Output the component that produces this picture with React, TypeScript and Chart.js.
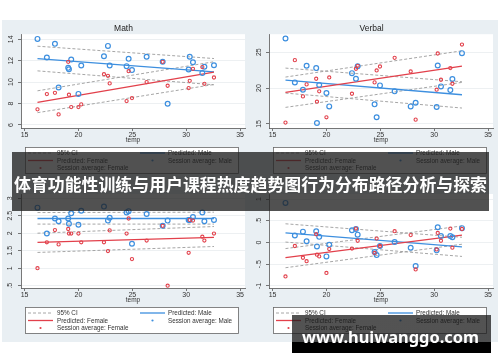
import React, { useEffect, useRef } from 'react';
import { Chart, registerables } from 'chart.js';

Chart.register(...registerables);

// ---------------- data ----------------
const sessionTemp = [16.2, 17.07, 17.82, 18.16, 19.05, 19.12, 19.33, 20.0, 20.26, 22.37, 22.74, 22.9, 24.47, 24.66, 24.97, 26.33, 27.82, 28.28, 30.23, 30.33, 30.63, 31.5, 31.69, 32.58];

const mathMale = [14.03, 12.3, 13.57, 9.5, 11.33, 11.2, 12.1, 8.9, 11.55, 12.42, 13.38, 11.55, 11.49, 12.17, 11.12, 12.36, 11.9, 7.98, 11.18, 12.36, 11.86, 10.84, 11.43, 11.58];
const mathFemale = [7.46, 8.88, 9.0, 6.99, 11.89, 8.82, 7.67, 7.67, 7.92, 10.74, 10.59, 9.88, 8.23, 11.02, 8.51, 10.0, 11.89, 9.66, 9.44, 10.12, 11.24, 11.4, 9.84, 10.43];

const verbalMale = [26.9, 20.79, 19.77, 23.1, 22.78, 15.14, 20.42, 19.31, 17.45, 22.08, 21.3, 23.05, 17.73, 15.93, 20.37, 19.54, 17.45, 17.96, 17.36, 23.15, 20.23, 19.72, 21.25, 24.86];
const verbalFemale = [15.19, 23.89, 18.84, 20.51, 21.3, 18.1, 19.54, 15.93, 21.48, 19.21, 22.69, 23.1, 20.79, 22.45, 23.0, 24.21, 22.31, 15.6, 19.77, 24.81, 21.16, 22.78, 20.6, 26.06];

const thirdMale = [2.73, 1.99, 2.42, 2.34, 2.42, 2.27, 2.57, 2.24, 2.64, 2.76, 2.36, 2.44, 2.59, 2.63, 1.7, 2.55, 2.21, 2.36, 2.38, 2.38, 2.46, 2.59, 2.34, 2.38];
const thirdFemale = [1.0, 1.74, 2.09, 1.68, 2.12, 1.99, 1.99, 1.99, 1.74, 1.74, 1.49, 2.08, 1.99, 2.42, 1.26, 1.79, 2.21, 0.5, 1.44, 2.38, 2.36, 1.9, 1.79, 1.99];

const fourthMale = [0.91, 0.16, 0.25, 0.03, 0.26, -0.09, 0.13, -0.32, -0.05, 0.28, 0.31, 0.18, -0.22, -0.29, -0.08, 0.01, -0.12, -0.54, -0.18, 0.35, 0.15, 0.15, 0.12, 0.33];
const fourthFemale = [-0.78, -0.08, -0.35, -0.43, 0.19, -0.28, -0.32, -0.7, -0.15, -0.14, 0.32, 0.04, -0.24, 0.09, -0.08, 0.26, 0.17, -0.62, -0.16, 0.22, 0.04, 0.32, -0.12, 0.31];

// fitted lines (ends at min / max temp)
const fitX = [16.2, 32.58];
const mathFitMale = [12.2, 10.96];
const mathFitFemale = [8.11, 10.93];
const mathCiMaleHi = [13.35, 12.2];
const mathCiMaleLo = [11.05, 9.75];
const mathCiFemaleHi = [9.19, 11.9];
const mathCiFemaleLo = [7.15, 9.78];

const verbalFitMale = [21.11, 19.07];
const verbalFitFemale = [19.4, 23.06];
const verbalCiMaleHi = [22.78, 20.88];
const verbalCiMaleLo = [19.3, 17.22];
const verbalCiFemaleHi = [21.53, 25.19];
const verbalCiFemaleLo = [17.31, 20.79];

const thirdFitMale = [2.42, 2.42];
const thirdFitFemale = [1.74, 1.88];
const thirdCiMaleHi = [2.59, 2.6];
const thirdCiMaleLo = [2.26, 2.26];
const thirdCiFemaleHi = [2.0, 2.19];
const thirdCiFemaleLo = [1.45, 1.62];

const fourthFitMale = [0.22, -0.1];
const fourthFitFemale = [-0.35, 0.17];
const fourthCiMaleHi = [0.43, 0.12];
const fourthCiMaleLo = [0.01, -0.32];
const fourthCiFemaleHi = [-0.14, 0.38];
const fourthCiFemaleLo = [-0.58, -0.04];

const xTicks = [15, 20, 25, 30, 35];
const mathTicks = [6, 8, 10, 12, 14];
const verbalTicks = [15, 20, 25];
const thirdTicks = [0.5, 1, 1.5, 2, 2.5, 3];
const fourthTicks = [-1, -0.5, 0, 0.5, 1];

const panelTitles = ['Math', 'Verbal', '', ''];
const xAxisTitle = 'temp';
const legendLabels = ['95% CI', 'Predicted: Male', 'Predicted: Female', 'Session average: Male', 'Session average: Female'];
const bannerText = '体育功能性训练与用户课程热度趋势图行为分布路径分析与探索';
const watermarkText = 'www.huiwanggo.com';

// ---------------- styles ----------------
const FONT = '"Liberation Sans", Arial, sans-serif';
const BG = '#e9eff3';
const BLUE = '#3d8fdf';
const RED = '#e2404b';
const CI = '#9c9c9c';
const AXIS = '#555';
const GRID = '#e8ecef';
const TXT = '#333';

const fmtTick = (v: number) => {
  const s = String(Math.round(v * 100) / 100);
  return s.replace(/^(-?)0\./, '$1.');
};

type PanelCfg = {
  title: string;
  male: number[];
  female: number[];
  fitMale: number[];
  fitFemale: number[];
  ciMaleHi: number[];
  ciMaleLo: number[];
  ciFemaleHi: number[];
  ciFemaleLo: number[];
  yTicks: number[];
  yMin: number;
  yMax: number;
};

const panels: PanelCfg[] = [
  { title: panelTitles[0], male: mathMale, female: mathFemale, fitMale: mathFitMale, fitFemale: mathFitFemale, ciMaleHi: mathCiMaleHi, ciMaleLo: mathCiMaleLo, ciFemaleHi: mathCiFemaleHi, ciFemaleLo: mathCiFemaleLo, yTicks: mathTicks, yMin: 5.72, yMax: 14.47 },
  { title: panelTitles[1], male: verbalMale, female: verbalFemale, fitMale: verbalFitMale, fitFemale: verbalFitFemale, ciMaleHi: verbalCiMaleHi, ciMaleLo: verbalCiMaleLo, ciFemaleHi: verbalCiFemaleHi, ciFemaleLo: verbalCiFemaleLo, yTicks: verbalTicks, yMin: 14.44, yMax: 27.5 },
  { title: panelTitles[2], male: thirdMale, female: thirdFemale, fitMale: thirdFitMale, fitFemale: thirdFitFemale, ciMaleHi: thirdCiMaleHi, ciMaleLo: thirdCiMaleLo, ciFemaleHi: thirdCiFemaleHi, ciFemaleLo: thirdCiFemaleLo, yTicks: thirdTicks, yMin: 0.434, yMax: 3.12 },
  { title: panelTitles[3], male: fourthMale, female: fourthFemale, fitMale: fourthFitMale, fitFemale: fourthFitFemale, ciMaleHi: fourthCiMaleHi, ciMaleLo: fourthCiMaleLo, ciFemaleHi: fourthCiFemaleHi, ciFemaleLo: fourthCiFemaleLo, yTicks: fourthTicks, yMin: -1.046, yMax: 1.115 },
];

const decorPlugin = {
  id: 'stataDecor',
  beforeDraw(chart: any) {
    const { ctx, chartArea: a, width, height } = chart;
    ctx.save();
    ctx.fillStyle = BG;
    ctx.fillRect(0, 0, width, height);
    ctx.fillStyle = '#ffffff';
    ctx.fillRect(a.left, a.top, a.right - a.left, a.bottom - a.top);
    ctx.restore();
  },
  afterDraw(chart: any) {
    const { ctx } = chart;
    const bx = 23, by = 127, bw = 213, bh = 26;
    ctx.save();
    ctx.fillStyle = '#ffffff';
    ctx.fillRect(bx, by, bw, bh);
    ctx.strokeStyle = '#666';
    ctx.lineWidth = 0.8;
    ctx.strokeRect(bx + 0.5, by + 0.5, bw, bh);
    const rows = [133, 140.5, 148];
    const cols = [{ s: 26, e: 51, t: 55 }, { s: 138, e: 163, t: 166 }];
    const items = [
      { c: 0, r: 0, k: 'dash', col: CI },
      { c: 1, r: 0, k: 'line', col: BLUE },
      { c: 0, r: 1, k: 'line', col: RED },
      { c: 1, r: 1, k: 'dot', col: BLUE },
      { c: 0, r: 2, k: 'dot', col: RED },
    ];
    ctx.font = `6.3px ${FONT}`;
    ctx.textBaseline = 'middle';
    ctx.textAlign = 'left';
    items.forEach((it, i) => {
      const y = rows[it.r];
      const c = cols[it.c];
      if (it.k === 'dot') {
        ctx.fillStyle = it.col;
        ctx.beginPath();
        ctx.arc((c.s + c.e) / 2, y, 1.1, 0, Math.PI * 2);
        ctx.fill();
      } else {
        ctx.strokeStyle = it.col;
        ctx.lineWidth = it.k === 'dash' ? 0.9 : 1.3;
        ctx.setLineDash(it.k === 'dash' ? [3, 2] : []);
        ctx.beginPath();
        ctx.moveTo(c.s, y);
        ctx.lineTo(c.e, y);
        ctx.stroke();
        ctx.setLineDash([]);
      }
      ctx.fillStyle = TXT;
      ctx.fillText(legendLabels[i], c.t, y + 0.5);
    });
    ctx.restore();
  },
};

function buildConfig(p: PanelCfg, height: number): any {
  const line = (ys: number[], color: string, dashed: boolean) => ({
    showLine: true,
    data: fitX.map((x, i) => ({ x, y: ys[i] })),
    borderColor: color,
    backgroundColor: color,
    borderWidth: dashed ? 0.9 : 1.3,
    borderDash: dashed ? [3, 2] : [],
    pointRadius: 0,
    fill: false,
    order: dashed ? 5 : 3,
  });
  const pts = (ys: number[], color: string, r: number, bw: number, ord: number) => ({
    data: sessionTemp.map((x, i) => ({ x, y: ys[i] })),
    borderColor: color,
    backgroundColor: 'rgba(0,0,0,0)',
    borderWidth: bw,
    pointRadius: r,
    pointHoverRadius: r,
    order: ord,
  });
  const tickFont = { family: FONT, size: 7 };
  return {
    type: 'scatter',
    data: {
      datasets: [
        line(p.ciMaleHi, CI, true),
        line(p.ciMaleLo, CI, true),
        line(p.ciFemaleHi, CI, true),
        line(p.ciFemaleLo, CI, true),
        line(p.fitFemale, RED, false),
        line(p.fitMale, BLUE, false),
        pts(p.male, BLUE, 2.4, 1.2, 2),
        pts(p.female, RED, 1.6, 1.1, 1),
      ],
    },
    options: {
      responsive: false,
      animation: false,
      devicePixelRatio: 1,
      events: [],
      layout: { padding: { top: p.title ? 0 : 14, left: 0, right: 5, bottom: height - 125 } },
      plugins: {
        legend: { display: false },
        tooltip: { enabled: false },
        title: {
          display: !!p.title,
          text: p.title,
          color: '#222',
          font: { family: FONT, size: 8.5, weight: 'normal' },
          padding: { top: 4, bottom: 0 },
        },
      },
      scales: {
        x: {
          type: 'linear',
          min: 14.67,
          max: 35.46,
          afterBuildTicks: (s: any) => { s.ticks = xTicks.map((v) => ({ value: v })); },
          afterFit: (s: any) => { s.height = 17; },
          grid: { drawOnChartArea: false, tickLength: 3, tickColor: AXIS, tickWidth: 0.8 },
          border: { color: AXIS, width: 0.8 },
          ticks: { font: tickFont, color: TXT, padding: 0, maxRotation: 0, autoSkip: false },
          title: { display: true, text: xAxisTitle, color: TXT, font: { family: FONT, size: 6.5 }, padding: { top: 0, bottom: 1 } },
        },
        y: {
          type: 'linear',
          min: p.yMin,
          max: p.yMax,
          afterBuildTicks: (s: any) => { s.ticks = p.yTicks.map((v) => ({ value: v })); },
          afterFit: (s: any) => { s.width = 19; },
          grid: { color: GRID, lineWidth: 0.8, tickLength: 3, tickColor: AXIS, tickWidth: 0.8 },
          border: { color: AXIS, width: 0.8 },
          ticks: {
            font: tickFont,
            color: TXT,
            padding: 3,
            minRotation: 90,
            maxRotation: 90,
            crossAlign: 'center',
            autoSkip: false,
            callback: (v: any) => fmtTick(Number(v)),
          },
        },
      },
    },
    plugins: [decorPlugin],
  };
}

function Panel({ cfg, left, top, width, height }: { cfg: PanelCfg; left: number; top: number; width: number; height: number }) {
  const ref = useRef<HTMLCanvasElement>(null);
  useEffect(() => {
    const chart = new Chart(ref.current as HTMLCanvasElement, buildConfig(cfg, height));
    return () => chart.destroy();
  }, [cfg, height]);
  return (
    <canvas
      ref={ref}
      width={width}
      height={height}
      style={{ position: 'absolute', left, top, width, height, display: 'block' }}
    />
  );
}

export default function App() {
  return (
    <div style={{ position: 'absolute', left: 0, top: 0, width: 500, height: 362, background: '#ffffff', overflow: 'hidden' }}>
      <Panel cfg={panels[0]} left={2} top={20} width={248} height={160} />
      <Panel cfg={panels[1]} left={250} top={20} width={248} height={160} />
      <Panel cfg={panels[2]} left={2} top={180} width={248} height={162} />
      <Panel cfg={panels[3]} left={250} top={180} width={248} height={162} />
      <div
        style={{
          position: 'absolute', left: 12, top: 152, width: 477, height: 59,
          background: 'rgba(32,32,32,0.78)', color: '#fff',
          display: 'flex', alignItems: 'center', justifyContent: 'center',
          fontFamily: '"Noto Sans CJK SC", sans-serif', fontWeight: 700, fontSize: 16.9,
          paddingTop: 3, boxSizing: 'border-box', whiteSpace: 'nowrap',
        }}
      >
        {bannerText}
      </div>
      <div
        style={{
          position: 'absolute', left: 292, top: 315, width: 199, height: 38,
          background: 'linear-gradient(to bottom, rgba(25,25,25,0.75) 0px, rgba(25,25,25,0.75) 27px, #000 27px, #000 38px)',
        }}
      >
        <div
          style={{
            position: 'absolute', left: 10, top: 11.5, lineHeight: '20px',
            fontFamily: '"Noto Sans", sans-serif', fontWeight: 700, fontSize: 16.4,
            color: '#fff', whiteSpace: 'nowrap',
          }}
        >
          {watermarkText}
        </div>
      </div>
    </div>
  );
}
